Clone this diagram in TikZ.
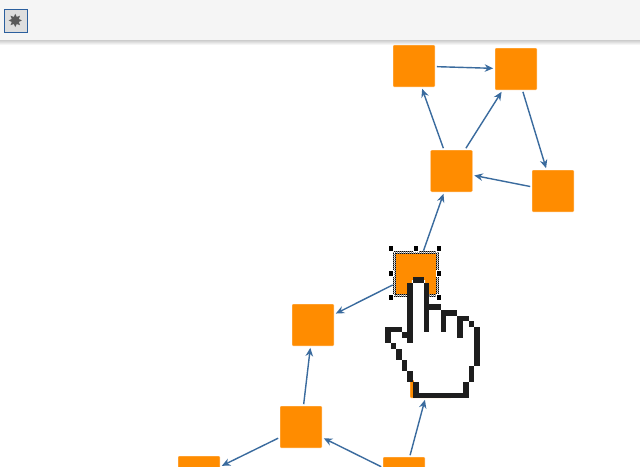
\documentclass[tikz,border=0pt]{standalone}
\usepackage{fontspec}
\usepackage{tikz}
\usetikzlibrary{arrows.meta, positioning, calc, backgrounds}
\newfontfamily\symbolfont{DejaVu Sans}
\definecolor{vertexorange}{HTML}{ff8c00}
\definecolor{vertexedge}{HTML}{ffc27a}
\definecolor{edgeblue}{HTML}{3a6b9e}
\definecolor{barblue}{HTML}{2b5f9e}
\definecolor{handblack}{HTML}{1e1e1e}

\begin{document}
\begin{tikzpicture}[
    x=1pt, y=-1pt,
    vertex_node/.style={rectangle, rounded corners=1pt, fill=vertexorange, draw=vertexedge, line width=0.4pt, minimum size=41.6pt, inner sep=0pt, outer sep=2pt},
    arrow/.style={-{Stealth[length=8.5pt, width=7.5pt]}, line width=1.4pt, draw=edgeblue},
    handle_node/.style={rectangle, fill=black, draw=white, line width=0.5pt, minimum size=5.5pt, inner sep=0pt}
]
\useasboundingbox (0,0) rectangle (640,466);
\begin{scope}
\clip (0,0) rectangle (640,466);
\fill[white] (0,0) rectangle (640,466);

% Toolbar
\shade[top color=black!20, bottom color=white] (0,40) rectangle (640,45);
\fill[black!4] (0,0) rectangle (640,40);
\node[rectangle, fill=black!13, draw=barblue, line width=1pt, minimum width=23pt, minimum height=23pt, inner sep=0pt, font=\symbolfont\fontsize{18}{18}\selectfont, text=black!65] (toggle) at (15.5,21) {✸};

% Vertices
\node[vertex_node] (top_left) at (414,66) {};
\node[vertex_node] (top_right) at (516,69) {};
\node[vertex_node] (middle) at (451.5,171) {};
\node[vertex_node] (side) at (553,191) {};
\node[vertex_node] (picked) at (415.5,273.5) {};
\node[vertex_node] (upper_left) at (313,325) {};
\node[vertex_node] (covered) at (431,377) {};
\node[vertex_node] (lower_left) at (301,427) {};
\node[vertex_node] (corner_left) at (199,477) {};
\node[vertex_node] (corner_right) at (404,478) {};

% Connections
\draw[arrow] (top_left) -- (top_right);
\draw[arrow] (middle) -- (top_left);
\draw[arrow] (middle) -- (top_right);
\draw[arrow] (top_right) -- (side);
\draw[arrow] (side) -- (middle);
\draw[arrow] (picked) -- (middle);
\draw[arrow] (picked) -- (upper_left);
\draw[arrow] (lower_left) -- (upper_left);
\draw[arrow] (lower_left) -- (corner_left);
\draw[arrow] (corner_right) -- (lower_left);
\draw[arrow] (corner_right) -- (covered);

% Selection
\fill[black!45] (picked.center) ++(-23,-23) rectangle ++(46,46);
\draw[black, line width=1pt, dash pattern=on 1pt off 1pt] (picked.center) ++(-22.5,-22.5) rectangle ++(45,45);
\draw[white, line width=1pt, dash pattern=on 1pt off 1pt, dash phase=1pt] (picked.center) ++(-21.5,-21.5) rectangle ++(43,43);
\draw[black, line width=1pt, dash pattern=on 1pt off 1pt] (picked.center) ++(-20.5,-20.5) rectangle ++(41,41);
\fill[vertexorange] (picked.center) ++(-20,-20) rectangle ++(40,40);
\node[handle_node] (h1) at (390.5,248) {};
\node[handle_node] (h2) at (415.5,248) {};
\node[handle_node] (h3) at (438.5,248) {};
\node[handle_node] (h4) at (390.5,273) {};
\node[handle_node] (h5) at (438.5,273) {};
\node[handle_node] (h6) at (390.5,297) {};
\node[handle_node] (h7) at (438.5,297) {};

% Pointer
\fill[white] (412,280) -- (425,280) -- (425,307) -- (441,307) -- (446,312) -- (457,312) -- (463,318) -- (474,324) -- (477,365) -- (466,396) -- (416,396) -- (414,381) -- (387,340) -- (387,329) -- (407,335) -- cycle;
\foreach \xa/\ya/\xb/\yb in {
    412.7/277.3/424/282.7, 407.3/282.7/412.7/343, 424/282.7/429.3/332,
    429.3/304.3/441/310, 441/310/446/332, 446/310/457/315.7,
    457/315.7/463/338, 463/315.7/468.7/321, 468.7/321/474/326.7,
    474/326.7/480/365.7, 468.7/365.7/474/381.7, 463/381.7/468.7/398,
    413.3/393/468.7/398, 413.3/381.7/418.7/398, 407.3/371/413.3/381.7,
    402/360/407.3/371, 396.3/349/402/360, 390.7/343.3/396.3/349,
    385/326.7/390.7/343.3, 385/326.7/402/332, 402/332/407.3/337.7}
    \fill[handblack] (\xa,\ya) rectangle (\xb,\yb);
\end{scope}
\end{tikzpicture}
\end{document}
